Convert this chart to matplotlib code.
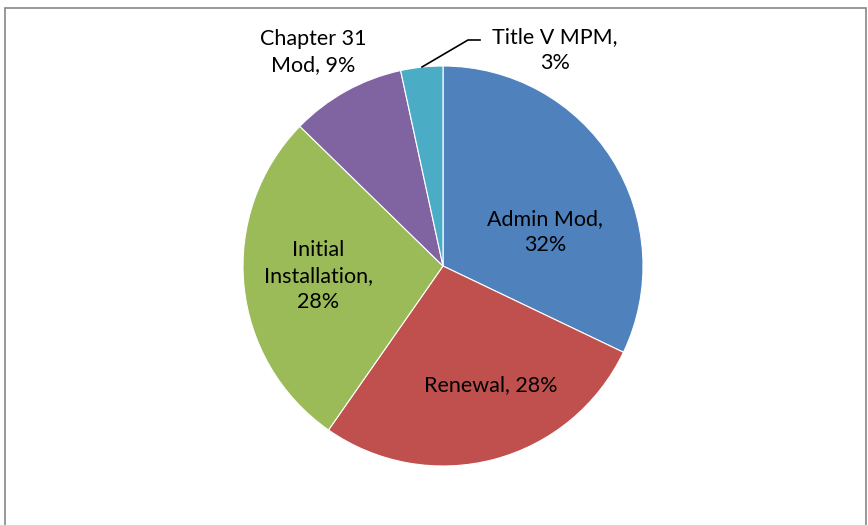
import matplotlib.pyplot as plt
from matplotlib.patches import Rectangle

W, H = 868, 525

labels = ['Admin Mod,\n32%', 'Renewal, 28%', 'Initial\nInstallation,\n28%',
          'Chapter 31\nMod, 9%', 'Title V MPM,\n3%']
values = [32.1, 27.6, 27.6, 9.3, 3.4]
colors = ['#4F81BD', '#C0504D', '#9BBB59', '#8064A2', '#4BACC6']

# label centres in image pixels (x, y from top)
label_pos = [(545, 232), (491, 385), (318, 276), (313, 52), (555, 50)]

plt.rcParams['font.family'] = ['Lato', 'DejaVu Sans']

fig = plt.figure(figsize=(W / 100, H / 100), dpi=100)
ax = fig.add_axes([0, 0, 1, 1])

# chart frame
ax.add_patch(Rectangle((4.5, -10), 861, H - 7.5 + 10, fill=False,
                       edgecolor='#868686', linewidth=1.2))

ax.pie(values, colors=colors, startangle=90, counterclock=False,
       center=(443, H - 266), radius=200, frame=True,
       wedgeprops=dict(edgecolor='white', linewidth=0.8))
ax.set_xlim(0, W)
ax.set_ylim(0, H)
ax.set_aspect('equal')
ax.axis('off')

for lab, (x, y) in zip(labels, label_pos):
    ax.text(x, H - y, lab, ha='center', va='center', fontsize=15.5,
            color='black', linespacing=1.35)

# leader line for the small slice
ax.plot([480, 468, 422], [H - 40, H - 40, H - 67], color='black', linewidth=1.2)

fig.savefig('out.png', dpi=100)
